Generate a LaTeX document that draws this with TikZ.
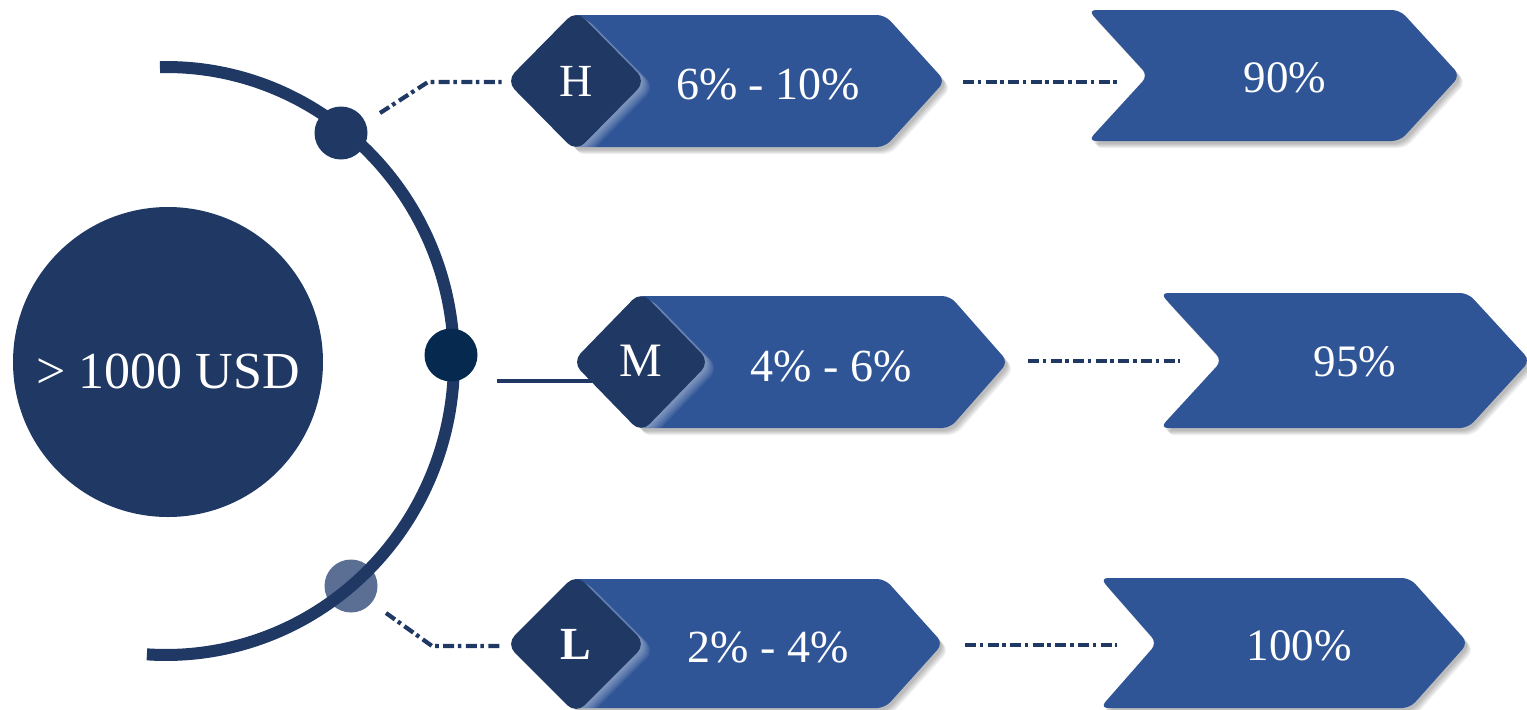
\documentclass[tikz,border=0pt]{standalone}
\usepackage{fontspec}
\setmainfont{Liberation Serif}
\usetikzlibrary{shapes.geometric}
\definecolor{navy}{HTML}{203864}
\definecolor{boxblue}{HTML}{2F5597}
\definecolor{mdotc}{HTML}{062A4F}
\definecolor{ldotc}{HTML}{5B6E94}
% left box with pointed right end: xl, yt, yb, xr, xp
\newcommand\tagpath[5]{(#1,#2) -- (#4,#2) -- (#5,{(#2+#3)/2}) -- (#4,#3) -- (#1,#3) -- cycle}
% right box with notch on left: xl, yt, yb, xr, xp, xn
\newcommand\notchpath[6]{(#1,#2) -- (#4,#2) -- (#5,{(#2+#3)/2}) -- (#4,#3) -- (#1,#3) -- (#6,{(#2+#3)/2}) -- cycle}
% diamond outline: cx, cy, hw, hh
\newcommand\diampath[4]{({#1-#3},#2) -- (#1,{#2-#4}) -- ({#1+#3},#2) -- (#1,{#2+#4}) -- cycle}
\newcommand\boxshadow[1]{\foreach \s in {1,...,5}{\fill[black,opacity=0.06,rounded corners=4pt,shift={(\s+1,\s+2)}] #1;}}
\newcommand\diamglow[1]{\foreach \s in {1,...,7}{\fill[white,opacity=0.065,rounded corners=6pt,shift={(\s*1.3,\s*0.9)}] #1;}}
\tikzset{
  bluebox/.style={fill=boxblue,rounded corners=4pt},
  diam/.style={diamond,fill=navy,rounded corners=6pt,inner sep=0pt,aspect=1,
    minimum width=70pt,minimum height=71pt,text=white},
  dashdot/.style={draw=navy,line width=2.1pt,dash pattern=on 5.5pt off 1.8pt on 1.8pt off 2.2pt},
  pct/.style={text=white,font=\fontsize{23}{27}\selectfont,inner sep=0pt},
  pctr/.style={text=white,font=\fontsize{22.5}{27}\selectfont,inner sep=0pt},
  dot/.style={circle,inner sep=0pt,minimum size=26.5pt},
}
\begin{document}
\begin{tikzpicture}[x=0.5pt,y=-0.5pt]
\useasboundingbox (0,0) rectangle (1527,709);

% ---- central circle and arc
\node[circle,fill=navy,minimum size=155pt,inner sep=0pt] (big) at (168,362) {};
\node[text=white,font=\fontsize{26}{30}\selectfont,inner sep=0pt] (bigtxt) at (168,371) {> 1000 USD};

\coordinate (arcC) at (166,361);
\node[dot,fill=ldotc] (dotL) at (351,586) {};
\draw[navy,line width=6pt] (arcC) ++(-91.2:288 and 294) arc[start angle=-91.2,end angle=93.8,x radius=288,y radius=294];
\node[dot,fill=navy] (dotH) at (341,133) {};
\node[dot,fill=mdotc] (dotM) at (451,355) {};

% ---- box shadows
\boxshadow{\tagpath{570}{15}{147}{885}{945}}
\boxshadow{\tagpath{636}{296}{428}{950}{1008}}
\boxshadow{\tagpath{570}{579}{708}{885}{943}}
\boxshadow{\notchpath{1088}{10}{141}{1400}{1460}{1148}}
\boxshadow{\notchpath{1160}{293}{428}{1468}{1530}{1222}}
\boxshadow{\notchpath{1100}{578}{708}{1410}{1468}{1157}}

% ---- boxes
\fill[bluebox] \tagpath{570}{15}{147}{885}{945};
\fill[bluebox] \tagpath{636}{296}{428}{950}{1008};
\fill[bluebox] \tagpath{570}{579}{708}{885}{943};
\fill[bluebox] \notchpath{1088}{10}{141}{1400}{1460}{1148};
\fill[bluebox] \notchpath{1160}{293}{428}{1468}{1530}{1222};
\fill[bluebox] \notchpath{1100}{578}{708}{1410}{1468}{1157};

% ---- light glow of the diamonds on the boxes
\begin{scope}
  \clip \tagpath{570}{15}{147}{885}{945};
  \diamglow{\diampath{576}{81}{70}{71}}
\end{scope}
\begin{scope}
  \clip \tagpath{636}{296}{428}{950}{1008};
  \diamglow{\diampath{641}{362}{69}{71}}
\end{scope}
\begin{scope}
  \clip \tagpath{570}{579}{708}{885}{943};
  \diamglow{\diampath{576}{644}{70}{70}}
\end{scope}

% ---- M solid connector (behind diamond)
\coordinate (ms) at (497,381);
\coordinate (me) at (592,381);
\draw[navy,line width=1.6pt] (ms) -- (me);

% ---- diamonds
\node[diam,font=\fontsize{23}{27}\selectfont] (dH) at (576,81) {H};
\node[diam,minimum width=69pt,font=\fontsize{24}{28}\selectfont] (dM) at (641,362) {\raisebox{1pt}{M}};
\node[diam,minimum height=70pt,font=\fontsize{23}{27}\selectfont\bfseries] (dL) at (576,644) {\raisebox{-2pt}{L}};

% ---- dash-dot connectors
\coordinate (hs) at (380,113);
\coordinate (hk) at (428,82);
\draw[dashdot] (hs) -- (hk) -- ([xshift=-2pt]dH.west |- hk);
\coordinate (ls) at (386,613);
\coordinate (lk) at (432,646);
\draw[dashdot] (ls) -- (lk) -- ([xshift=-2pt]dL.west |- lk);

\coordinate (h1) at (963,82);  \coordinate (h2) at (1117,82);
\coordinate (m1) at (1028,361); \coordinate (m2) at (1180,361);
\coordinate (l1) at (965,645);  \coordinate (l2) at (1117,645);
\draw[dashdot] (h1) -- (h2);
\draw[dashdot] (m1) -- (m2);
\draw[dashdot] (l1) -- (l2);

% ---- texts
\node[pct] (tH) at (768,84) {6\% - 10\%};
\node[pct] (tM) at (831,366) {4\% - 6\%};
\node[pct] (tL) at (768,647) {2\% - 4\%};
\node[pctr] (rH) at (1285,78) {90\%};
\node[pctr] (rM) at (1355,362) {95\%};
\node[pctr] (rL) at (1299,646) {100\%};
\end{tikzpicture}
\end{document}
